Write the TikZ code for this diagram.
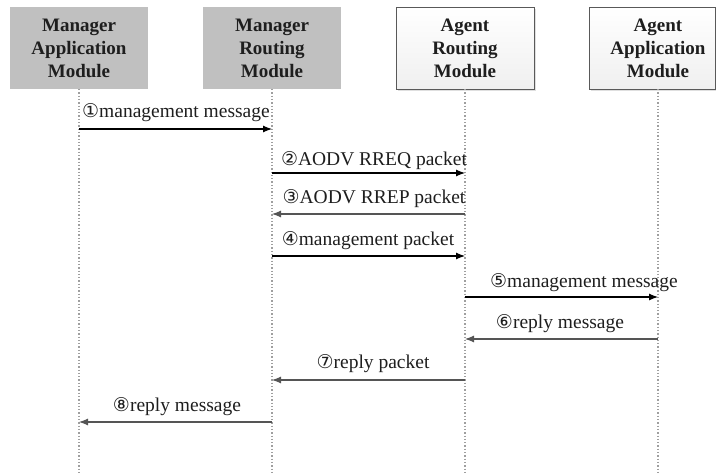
\documentclass[tikz,border=0pt]{standalone}
\usepackage{fontspec}
\setmainfont{Liberation Serif}
\newfontfamily\circfont{DejaVu Sans}
\usetikzlibrary{arrows.meta,shadows}
\definecolor{boxgray}{RGB}{192,192,192}
\definecolor{txtdark}{RGB}{30,30,30}
\definecolor{replygray}{RGB}{85,85,85}
\newcommand{\cn}[1]{{\circfont\fontsize{19}{19}\selectfont #1}}
\tikzset{
  modbox/.style={draw=none, minimum width=138pt, minimum height=82pt, inner sep=0pt},
  mgrbox/.style={modbox, fill=boxgray},
  agtbox/.style={modbox, draw=gray!70!black, line width=0.8pt, top color=white, bottom color=gray!12,
    drop shadow={shadow xshift=1.5pt, shadow yshift=-1.5pt, fill=gray!50, opacity=0.5}},
  modtext/.style={align=center, text=txtdark, font=\fontsize{19}{23}\selectfont\bfseries},
  lifeline/.style={draw=gray!75, line width=1.3pt, dotted},
  fwd/.style={draw=black, line width=1.1pt, -{Latex[length=9pt,width=7pt]}},
  rev/.style={draw=replygray, line width=1.1pt, -{Latex[length=9pt,width=7pt]}},
  lbl/.style={anchor=base, inner sep=0pt, text=txtdark, font=\fontsize{19.5}{22}\selectfont}
}
\begin{document}
\begin{tikzpicture}[x=1pt,y=-1pt]
\useasboundingbox (0,0) rectangle (716,474);
% boxes
\node[mgrbox] (b1) at (79,48) {};
\node[mgrbox] (b2) at (272,48) {};
\node[agtbox, minimum width=138pt] (b3) at (465,48) {};
\path[agtbox, draw=gray!70!black] (589,7) rectangle (715,89);
\node[modtext] (t1) at (79,48) {Manager\\Application\\Module};
\node[modtext] (t2) at (272,48) {Manager\\Routing\\Module};
\node[modtext] (t3) at (465,48) {Agent\\Routing\\Module};
\node[modtext] (t4) at (658,48) {Agent\\Application\\Module};
% lifeline ends
\coordinate (e1) at (79,474);
\coordinate (e2) at (272,474);
\coordinate (e3) at (465,474);
\coordinate (e4) at (658,474);
\coordinate (s1) at (79,89);
\coordinate (s2) at (272,89);
\coordinate (s3) at (465,89);
\coordinate (s4) at (658,89);
\draw[lifeline] (s1) -- (e1);
\draw[lifeline] (s2) -- (e2);
\draw[lifeline] (s3) -- (e3);
\draw[lifeline] (s4) -- (e4);
% message points
\coordinate (a1) at (79,129);  \coordinate (a2) at (272,129);
\coordinate (c2) at (272,173); \coordinate (c3) at (465,173);
\coordinate (d3) at (465,214); \coordinate (d2) at (272,214);
\coordinate (f2) at (272,256); \coordinate (f3) at (465,256);
\coordinate (g3) at (465,297); \coordinate (g4) at (658,297);
\coordinate (h4) at (658,339); \coordinate (h3) at (465,339);
\coordinate (i3) at (465,380); \coordinate (i2) at (272,380);
\coordinate (j2) at (272,422); \coordinate (j1) at (79,422);
\draw[fwd] (a1) -- (a2);
\draw[fwd] (c2) -- (c3);
\draw[rev] (d3) -- (d2);
\draw[fwd] (f2) -- (f3);
\draw[fwd] (g3) -- (g4);
\draw[rev] (h4) -- (h3);
\draw[rev] (i3) -- (i2);
\draw[rev] (j2) -- (j1);
% labels
\node[lbl] (l1) at (176,117) {\cn{①}management message};
\node[lbl] (l2) at (374,165) {\cn{②}AODV RREQ packet};
\node[lbl] (l3) at (374,203) {\cn{③}AODV RREP packet};
\node[lbl] (l4) at (368,245) {\cn{④}management packet};
\node[lbl] (l5) at (584,287) {\cn{⑤}management message};
\node[lbl] (l6) at (560,328) {\cn{⑥}reply message};
\node[lbl] (l7) at (373,368) {\cn{⑦}reply packet};
\node[lbl] (l8) at (177,411) {\cn{⑧}reply message};
\end{tikzpicture}
\end{document}
